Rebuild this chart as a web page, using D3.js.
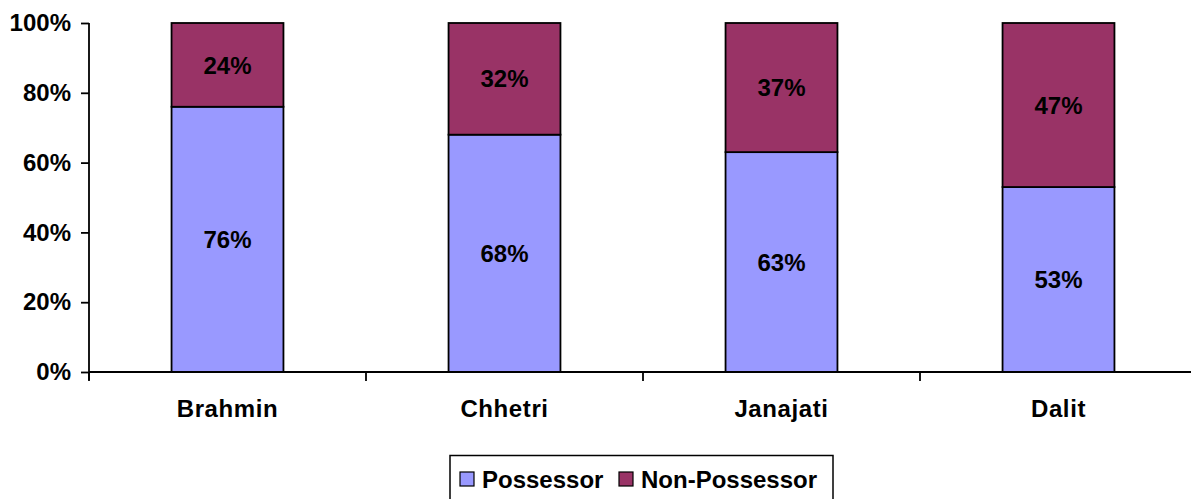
<!DOCTYPE html>
<html>
<head>
<meta charset="utf-8">
<script src="https://cdn.jsdelivr.net/npm/d3@7"></script>
<style>
  html, body { margin: 0; padding: 0; background: #fff; }
  svg { display: block; }
  text { font-family: "Liberation Sans", Arial, sans-serif; font-weight: bold; fill: #000; }
</style>
</head>
<body>
<svg id="chart" width="1191" height="499"></svg>
<script>
const categories = ["Brahmin", "Chhetri", "Janajati", "Dalit"];
const possessor = [76, 68, 63, 53];
const nonPossessor = [24, 32, 37, 47];
const seriesNames = ["Possessor", "Non-Possessor"];
const seriesColors = ["#9999FF", "#993366"];
const yTicks = [0, 20, 40, 60, 80, 100];

(function () {
const svg = d3.select("#chart");
const mLeft = 89, mRight = 1197, mTop = 23, mBottom = 372;

const x = d3.scaleBand().domain(categories).range([mLeft, mRight])
  .paddingInner(0.596).paddingOuter(0.298);
const y = d3.scaleLinear().domain([0, 100]).range([mBottom, mTop]);

const rows = categories.map((c, i) => ({ cat: c, Possessor: possessor[i], "Non-Possessor": nonPossessor[i] }));
const stacked = d3.stack().keys(seriesNames)(rows);

// bars
const g = svg.append("g");
stacked.forEach((s, si) => {
  g.selectAll(null).data(s).enter().append("rect")
    .attr("x", d => x(d.data.cat))
    .attr("y", d => y(d[1]))
    .attr("width", x.bandwidth())
    .attr("height", d => y(d[0]) - y(d[1]))
    .attr("fill", seriesColors[si])
    .attr("stroke", "#000")
    .attr("stroke-width", 1.8);
  g.selectAll(null).data(s).enter().append("text")
    .attr("x", d => x(d.data.cat) + x.bandwidth() / 2)
    .attr("y", d => (y(d[0]) + y(d[1])) / 2)
    .attr("text-anchor", "middle")
    .attr("dy", "0.36em")
    .style("font-size", "24px")
    .text(d => (d[1] - d[0]) + "%");
});

// y axis
const yAxis = d3.axisLeft(y).tickValues(yTicks).tickFormat(d => d + "%").tickSize(8).tickPadding(10);
const ya = svg.append("g").attr("transform", `translate(${mLeft},0)`).call(yAxis);
ya.select(".domain").attr("d", `M0,${mTop}V${mBottom + 8}`).attr("stroke", "#000").attr("stroke-width", 1.8);
ya.selectAll(".tick line").attr("stroke", "#000").attr("stroke-width", 1.8);
ya.selectAll(".tick text").style("font-size", "24px").style("font-family", "'Liberation Sans', Arial, sans-serif").attr("font-weight", "bold");

// x axis
const xa = svg.append("g").attr("transform", `translate(0,${mBottom})`);
xa.append("line").attr("x1", mLeft).attr("x2", mRight).attr("y1", 0).attr("y2", 0)
  .attr("stroke", "#000").attr("stroke-width", 1.8);
const boundaries = categories.map((c, i) => i === 0 ? mLeft : x(c) - x.step() * x.paddingInner() / 2).concat([mRight]);
xa.selectAll(null).data(boundaries).enter().append("line")
  .attr("x1", d => d).attr("x2", d => d).attr("y1", 0).attr("y2", 9)
  .attr("stroke", "#000").attr("stroke-width", 1.8);
xa.selectAll(null).data(categories).enter().append("text")
  .attr("x", d => x(d) + x.bandwidth() / 2)
  .attr("y", 45)
  .attr("text-anchor", "middle")
  .style("font-size", "24px")
  .style("letter-spacing", "0.6px")
  .text(d => d);

// legend
const lg = svg.append("g");
lg.append("rect").attr("x", 450).attr("y", 455.5).attr("width", 383).attr("height", 60)
  .attr("fill", "#fff").attr("stroke", "#000").attr("stroke-width", 1.5);
const legendX = [460, 619];
seriesNames.forEach((n, i) => {
  lg.append("rect").attr("x", legendX[i]).attr("y", 472).attr("width", 14).attr("height", 14)
    .attr("fill", seriesColors[i]).attr("stroke", "#000").attr("stroke-width", 1.2);
  lg.append("text").attr("x", legendX[i] + 22).attr("y", 488)
    .style("font-size", "24px").text(n);
});
})();
</script>
</body>
</html>
